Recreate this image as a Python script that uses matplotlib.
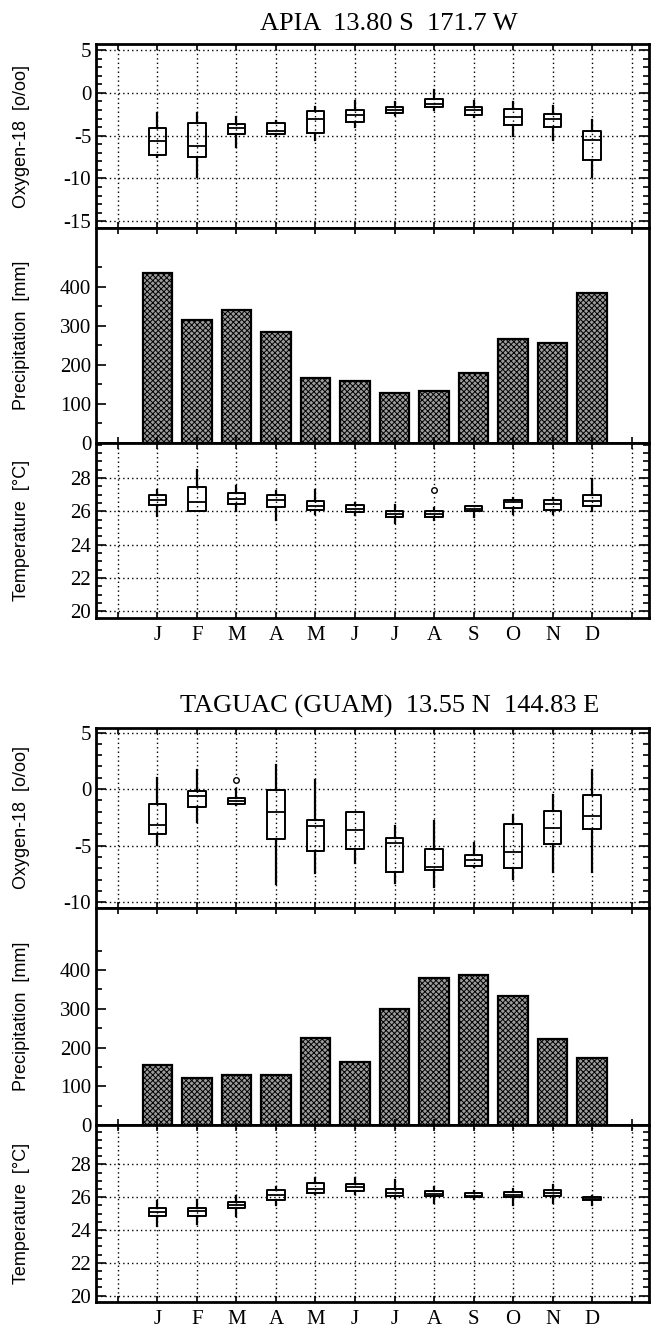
import matplotlib.pyplot as plt
from matplotlib.ticker import MultipleLocator, FixedLocator

plt.rcParams['axes.unicode_minus'] = False
plt.rcParams['hatch.linewidth'] = 0.7

MONTHS = ['J', 'F', 'M', 'A', 'M', 'J', 'J', 'A', 'S', 'O', 'N', 'D']

# APIA 13.80 S 171.7 W
apia_precip = [435, 316, 341, 285, 166, 158, 127, 133, 179, 266, 255, 385]
apia_o18_lo = [-7.5, -9.8, -6.3, -5.0, -5.5, -4.0, -2.6, -1.95, -2.8, -5.0, -5.5, -9.8]
apia_o18_q1 = [-7.3, -7.5, -4.8, -4.8, -4.7, -3.4, -2.4, -1.7, -2.6, -3.7, -4.0, -7.8]
apia_o18_med = [-5.6, -6.25, -4.1, -4.5, -3.0, -2.6, -2.0, -1.25, -2.0, -2.8, -3.0, -5.5]
apia_o18_q3 = [-4.1, -3.5, -3.6, -3.5, -2.1, -2.0, -1.6, -0.7, -1.7, -1.9, -2.5, -4.4]
apia_o18_hi = [-2.3, -2.3, -2.8, -3.3, -1.6, -0.9, -1.05, 0.3, -0.9, -1.05, -1.5, -3.2]
apia_t_lo = [25.75, 26.05, 26.05, 25.5, 25.85, 25.8, 25.3, 25.5, 25.65, 25.85, 25.85, 26.05]
apia_t_q1 = [26.4, 26.05, 26.45, 26.25, 26.1, 25.95, 25.65, 25.65, 26.0, 26.2, 26.1, 26.3]
apia_t_med = [26.7, 26.55, 26.75, 26.7, 26.3, 26.15, 25.85, 25.85, 26.15, 26.55, 26.45, 26.65]
apia_t_q3 = [27.0, 27.45, 27.1, 27.0, 26.6, 26.4, 26.05, 26.05, 26.3, 26.7, 26.7, 27.0]
apia_t_hi = [27.3, 28.5, 27.55, 27.2, 27.3, 26.5, 26.4, 26.2, 26.35, 26.8, 26.8, 27.95]
apia_t_out = [[], [], [], [], [], [], [], [27.3], [], [], [], []]

# TAGUAC (GUAM) 13.55 N 144.83 E
guam_precip = [156, 122, 130, 130, 225, 163, 299, 380, 388, 332, 222, 172]
guam_o18_lo = [-4.95, -2.95, -1.4, -8.35, -7.45, -6.55, -8.3, -8.65, -6.85, -7.9, -7.3, -7.3]
guam_o18_q1 = [-4.0, -1.55, -1.35, -4.4, -5.5, -5.25, -7.3, -7.15, -6.8, -7.0, -4.85, -3.55]
guam_o18_med = [-3.2, -0.6, -1.05, -2.05, -3.3, -3.6, -4.8, -6.85, -6.3, -5.6, -3.45, -2.35]
guam_o18_q3 = [-1.3, -0.2, -0.8, -0.05, -2.7, -2.05, -4.35, -5.25, -5.85, -3.1, -1.9, -0.5]
guam_o18_hi = [1.0, 1.7, 0.0, 2.15, 0.8, -2.0, -3.3, -2.85, -4.8, -2.3, -0.5, 1.7]
guam_o18_out = [[], [], [0.8], [], [], [], [], [], [], [], [], []]
guam_t_lo = [24.25, 24.35, 24.85, 25.55, 26.2, 26.2, 25.95, 25.65, 25.9, 25.55, 25.65, 25.55]
guam_t_q1 = [24.85, 24.85, 25.35, 25.85, 26.25, 26.35, 26.05, 26.05, 26.0, 26.0, 26.1, 25.8]
guam_t_med = [25.1, 25.15, 25.55, 26.15, 26.5, 26.6, 26.25, 26.2, 26.1, 26.15, 26.25, 25.9]
guam_t_q3 = [25.35, 25.35, 25.7, 26.45, 26.85, 26.8, 26.5, 26.35, 26.25, 26.3, 26.45, 26.0]
guam_t_hi = [25.75, 25.85, 26.1, 26.65, 27.15, 27.15, 27.05, 26.65, 26.35, 26.5, 26.75, 26.1]

SERIF = 'Liberation Serif'
SANS = 'Liberation Sans'
X = list(range(1, 13))


def stats(lo, q1, med, q3, hi, out=None):
    out = out or [[] for _ in lo]
    return [dict(whislo=a, q1=b, med=c, q3=d, whishi=e, fliers=f)
            for a, b, c, d, e, f in zip(lo, q1, med, q3, hi, out)]


def frame(ax, right_ticks=True):
    for s in ax.spines.values():
        s.set_linewidth(2.0)
    ax.set_xlim(-0.55, 13.45)
    ax.xaxis.set_major_locator(FixedLocator(range(14)))
    ax.tick_params(axis='both', which='both', direction='in', top=True,
                   right=right_ticks, labelsize=15, width=1.2)
    ax.tick_params(axis='both', which='major', length=7)
    ax.tick_params(axis='both', which='minor', length=4)
    ax.tick_params(axis='x', length=4)
    for lab in ax.get_yticklabels():
        lab.set_fontfamily(SERIF)
    ax.set_xticklabels([])


def grid(ax):
    ax.grid(True, which='major', color='black', linestyle=(0, (1, 2.2)), linewidth=1.0)
    ax.set_axisbelow(True)


def boxes(ax, st):
    ax.bxp(st, positions=X, widths=0.45, showcaps=False, manage_ticks=False,
           boxprops=dict(color='black', linewidth=1.4),
           medianprops=dict(color='black', linewidth=1.3),
           whiskerprops=dict(color='black', linewidth=1.6),
           flierprops=dict(marker='o', markersize=4, markerfacecolor='white',
                           markeredgecolor='black', markeredgewidth=1.0))


def ylab(ax, text):
    ax.set_ylabel(text, fontfamily=SANS, fontsize=13)
    ax.yaxis.set_label_coords(-0.12, 0.5)


def station(fig, title, ty, rects, precip, o18, temp, o18_lim, o18_ticks, p_lim, t_lim):
    fig.text(0.595, ty, title, fontfamily=SERIF, fontsize=19, ha='center', va='center')

    ax1 = fig.add_axes(rects[0])
    grid(ax1)
    boxes(ax1, o18)
    ax1.set_ylim(*o18_lim)
    ax1.set_yticks(o18_ticks)
    ax1.yaxis.set_minor_locator(MultipleLocator(1))
    frame(ax1)
    ylab(ax1, 'Oxygen-18  [o/oo]')

    ax2 = fig.add_axes(rects[1])
    ax2.bar(X, precip, width=0.75, facecolor='#9c9c9c', edgecolor='black',
            linewidth=1.6, hatch='xxxxxx')
    ax2.set_ylim(*p_lim)
    ax2.set_yticks([0, 100, 200, 300, 400])
    ax2.yaxis.set_minor_locator(FixedLocator([50, 150, 250, 350, 450]))
    frame(ax2, right_ticks=False)
    ylab(ax2, 'Precipitation  [mm]')

    ax3 = fig.add_axes(rects[2])
    grid(ax3)
    boxes(ax3, temp)
    ax3.set_ylim(*t_lim)
    ax3.set_yticks([20, 22, 24, 26, 28])
    ax3.yaxis.set_minor_locator(MultipleLocator(0.5))
    frame(ax3)
    ax3.set_xticklabels([''] + MONTHS + [''], fontfamily=SERIF, fontsize=15)
    ax3.tick_params(axis='x', pad=6)
    ylab(ax3, 'Temperature  [°C]')


fig = plt.figure(figsize=(6.54, 13.36), dpi=100)

station(fig, 'APIA  13.80 S  171.7 W', 0.982,
        [[0.147, 0.8293, 0.846, 0.1377],
         [0.147, 0.6684, 0.846, 0.1609],
         [0.147, 0.5374, 0.846, 0.1310]],
        apia_precip,
        stats(apia_o18_lo, apia_o18_q1, apia_o18_med, apia_o18_q3, apia_o18_hi),
        stats(apia_t_lo, apia_t_q1, apia_t_med, apia_t_q3, apia_t_hi, apia_t_out),
        (-15.8, 5.7), [5, 0, -5, -10, -15], (0, 550), (19.6, 30.1))

station(fig, 'TAGUAC (GUAM)  13.55 N  144.83 E', 0.471,
        [[0.147, 0.3204, 0.846, 0.1347],
         [0.147, 0.1579, 0.846, 0.1624],
         [0.147, 0.0254, 0.846, 0.1325]],
        guam_precip,
        stats(guam_o18_lo, guam_o18_q1, guam_o18_med, guam_o18_q3, guam_o18_hi, guam_o18_out),
        stats(guam_t_lo, guam_t_q1, guam_t_med, guam_t_q3, guam_t_hi),
        (-10.5, 5.4), [5, 0, -5, -10], (0, 560), (19.6, 30.4))

fig.savefig('out.png', dpi=100)
